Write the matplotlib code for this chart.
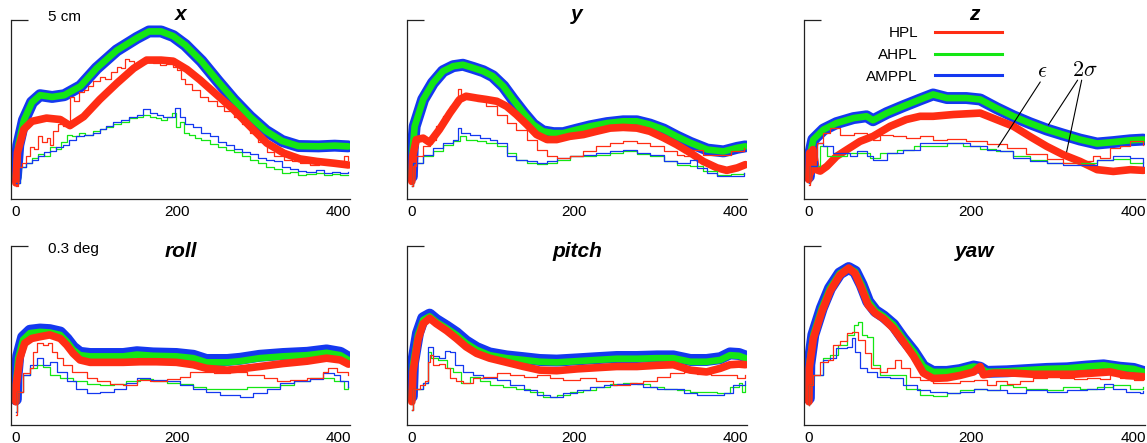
import numpy as np
import matplotlib
matplotlib.use("Agg")
from matplotlib import pyplot as plt
from matplotlib.lines import Line2D

plt.rcParams['font.family'] = ['Liberation Sans', 'DejaVu Sans']
plt.rcParams['mathtext.fontset'] = 'cm'

RED = '#ff2d14'
GREEN = '#14e614'
BLUE = '#1438f0'

panel_names = ['x', 'y', 'z', 'roll', 'pitch', 'yaw']
scale_labels = ['5 cm', '0.3 deg']
scale_tops = [5.0, 0.3]
x_ticks = [0, 200, 400]
legend_labels = ['HPL', 'AHPL', 'AMPPL']

# ---- x (cm) ----
ahpl_x = [(0, 0.6), (3, 1.5), (10, 2.2), (20, 2.7), (30, 2.9), (45, 2.85), (60, 2.9), (80, 3.15),
          (100, 3.65), (125, 4.15), (150, 4.5), (165, 4.68), (180, 4.68), (195, 4.55), (210, 4.3),
          (230, 3.85), (250, 3.3), (270, 2.77), (290, 2.3), (310, 1.9), (330, 1.62), (350, 1.48),
          (375, 1.47), (395, 1.49), (412, 1.47)]
hpl_x = [(0, 0.45), (2, 1.3), (10, 1.95), (20, 2.17), (38, 2.26), (55, 2.22), (67, 2.05), (84, 2.3),
         (104, 2.78), (125, 3.23), (146, 3.65), (162, 3.88), (180, 3.88), (195, 3.85), (212, 3.62),
         (228, 3.33), (249, 2.91), (270, 2.49), (290, 2.03), (311, 1.56), (332, 1.28), (352, 1.12),
         (373, 1.05), (394, 1.0), (412, 0.95)]
thin_hpl_x = [(0, 0.35), (3, 0.9), (8, 1.0), (12, 1.2), (17, 1.45), (22, 1.4), (27, 1.75), (32, 1.6),
              (38, 1.7), (42, 1.5), (46, 1.9), (52, 2.1), (58, 2.05), (63, 2.1), (67, 2.85), (72, 2.75),
              (78, 3.0), (84, 3.05), (90, 3.15), (96, 3.3), (104, 3.4), (110, 3.35), (118, 3.55),
              (125, 3.7), (130, 3.65), (135, 3.9), (140, 3.85), (146, 3.75), (155, 3.8), (162, 3.85),
              (170, 3.8), (179, 3.75), (186, 3.78), (195, 3.7), (200, 3.6), (205, 3.35), (210, 3.2),
              (218, 3.05), (228, 2.86), (238, 2.75), (249, 2.6), (258, 2.45), (270, 2.3), (280, 2.1),
              (290, 1.85), (300, 1.6), (311, 1.3), (320, 1.2), (332, 1.1), (342, 1.05), (352, 1.0),
              (365, 0.95), (375, 1.02), (385, 0.97), (394, 1.0), (402, 1.05), (407, 1.2), (412, 1.1)]
thin_ahpl_x = [(0, 0.45), (5, 0.9), (12, 1.0), (20, 1.15), (28, 1.25), (35, 1.2), (42, 1.45), (50, 1.4),
               (56, 1.6), (63, 1.8), (70, 1.75), (78, 1.85), (86, 1.8), (95, 1.9), (104, 1.95), (112, 2.0),
               (120, 2.1), (130, 2.15), (140, 2.25), (150, 2.3), (158, 2.35), (166, 2.3), (174, 2.25),
               (180, 2.2), (187, 2.3), (193, 2.4), (198, 2.0), (203, 2.15), (208, 1.85), (215, 1.8),
               (222, 1.7), (230, 1.65), (240, 1.55), (250, 1.45), (260, 1.38), (270, 1.3), (280, 1.2),
               (290, 1.1), (300, 1.0), (310, 0.9), (320, 0.85), (330, 0.72), (340, 0.75), (350, 0.68),
               (360, 0.7), (372, 0.74), (382, 0.68), (392, 0.7), (402, 0.66), (412, 0.68)]
thin_amppl_x = [(0, 0.45), (5, 0.9), (12, 1.0), (20, 1.1), (28, 1.2), (35, 1.3), (42, 1.35), (50, 1.45),
                (58, 1.5), (66, 1.65), (75, 1.75), (84, 1.8), (95, 1.85), (104, 1.95), (112, 2.05),
                (120, 2.15), (130, 2.2), (140, 2.3), (150, 2.35), (158, 2.5), (166, 2.4), (175, 2.35),
                (182, 2.3), (190, 2.3), (197, 2.55), (203, 2.3), (210, 2.1), (220, 2.0), (230, 1.85),
                (240, 1.75), (250, 1.6), (260, 1.5), (270, 1.4), (280, 1.3), (290, 1.25), (300, 1.15),
                (310, 1.1), (320, 1.05), (330, 0.9), (340, 0.85), (350, 0.78), (360, 0.75), (372, 0.82),
                (382, 0.72), (392, 0.75), (402, 0.72), (412, 0.75)]

# ---- y (cm) ----
ahpl_y = [(0, 0.63), (1, 1.38), (3.5, 2.03), (14, 2.78), (26, 3.24), (38.5, 3.57), (51, 3.71), (63, 3.75),
          (76, 3.66), (88, 3.57), (100, 3.43), (113, 3.15), (125, 2.78), (138, 2.40), (150, 2.08),
          (162, 1.89), (175, 1.84), (187, 1.84), (204, 1.94), (220, 2.03), (241, 2.12), (261, 2.17),
          (278, 2.17), (294, 2.08), (311, 1.94), (327, 1.75), (344, 1.57), (365, 1.38), (385, 1.33),
          (402, 1.43), (412, 1.47)]
hpl_y = [(0, 0.49), (1, 1.19), (5.5, 1.66), (14, 1.7), (22, 1.58), (34, 1.94), (47, 2.4), (59, 2.78),
         (67, 2.87), (80, 2.82), (92, 2.78), (105, 2.73), (117, 2.59), (129, 2.36), (142, 2.08),
         (154, 1.80), (167, 1.66), (179, 1.66), (195, 1.75), (212, 1.80), (228, 1.89), (245, 1.98),
         (261, 2.0), (278, 1.98), (294, 1.89), (311, 1.71), (327, 1.52), (344, 1.29), (360, 1.05),
         (377, 0.87), (389, 0.80), (402, 0.87), (412, 0.96)]
thin_hpl_y = [(0, 0.35), (1, 0.91), (5.5, 1.19), (14, 1.47), (22, 1.66), (30, 2.03), (38, 2.31),
              (47, 2.59), (53, 2.78), (57, 3.06), (61, 2.87), (67, 2.78), (80, 2.73), (92, 2.59),
              (105, 2.36), (117, 2.12), (129, 1.94), (142, 1.66), (154, 1.38), (167, 1.19), (179, 1.15),
              (195, 1.19), (212, 1.33), (228, 1.47), (245, 1.57), (261, 1.61), (278, 1.57), (294, 1.47),
              (311, 1.33), (327, 1.24), (336, 1.19), (344, 1.38), (360, 1.24), (377, 1.24), (394, 1.33),
              (410, 1.43)]
thin_ahpl_y = [(0, 0.35), (1.5, 1.01), (14, 1.19), (26, 1.33), (38, 1.52), (51, 1.61), (59, 1.75),
               (67, 1.66), (80, 1.61), (92, 1.57), (105, 1.47), (117, 1.29), (129, 1.1), (142, 1.01),
               (154, 0.99), (167, 1.01), (179, 1.1), (195, 1.19), (212, 1.21), (228, 1.24), (245, 1.29),
               (261, 1.33), (278, 1.27), (294, 1.19), (311, 1.05), (327, 0.96), (344, 0.91), (360, 0.77),
               (377, 0.68), (394, 0.71), (410, 0.73)]
thin_amppl_y = [(0, 0.35), (1.5, 1.01), (14, 1.24), (26, 1.43), (38, 1.57), (51, 1.66), (57, 1.98),
                (61, 1.84), (72, 1.80), (84, 1.70), (96, 1.66), (105, 1.57), (117, 1.19), (129, 1.10),
                (142, 1.05), (154, 1.01), (167, 1.05), (179, 1.15), (195, 1.19), (212, 1.24), (228, 1.29),
                (245, 1.33), (261, 1.36), (278, 1.29), (294, 1.24), (311, 1.05), (327, 1.01), (344, 1.10),
                (352, 0.87), (365, 0.73), (377, 0.63), (394, 0.65), (410, 0.73)]

# ---- z (cm) ----
ahpl_z = [(0, 0.63), (1, 1.19), (5.5, 1.66), (18, 1.94), (34, 2.12), (55, 2.26), (71, 2.31), (79, 2.2),
          (96, 2.40), (116, 2.59), (137, 2.78), (153, 2.92), (170, 2.82), (194, 2.82), (211, 2.78),
          (231, 2.54), (252, 2.31), (272, 2.12), (293, 1.94), (313, 1.80), (334, 1.66), (355, 1.55),
          (375, 1.59), (396, 1.64), (412, 1.66)]
hpl_z = [(0, 0.54), (1, 1.29), (2, 0.73), (5, 1.38), (9, 0.82), (14, 0.78), (22, 0.91), (34, 1.19),
         (47, 1.38), (63, 1.61), (79, 1.75), (100, 2.03), (120, 2.22), (137, 2.31), (153, 2.31),
         (178, 2.36), (211, 2.40), (231, 2.22), (252, 2.03), (272, 1.75), (293, 1.47), (313, 1.24),
         (334, 1.05), (355, 0.82), (375, 0.77), (396, 0.82), (412, 0.80)]
thin_hpl_z = [(0, 0.4), (1.4, 1.1), (9.6, 1.57), (18, 1.84), (26, 1.98), (38, 1.80), (55, 1.84),
              (71, 1.80), (79, 1.66), (88, 1.8), (104, 1.75), (120, 1.71), (137, 1.75), (153, 1.66),
              (170, 1.68), (194, 1.61), (219, 1.55), (244, 1.43), (268, 1.27), (293, 1.12), (313, 1.01),
              (334, 1.05), (350, 1.19), (358, 1.15), (371, 1.43), (383, 1.47), (396, 1.61), (412, 1.52)]
thin_ahpl_z = [(0, 0.45), (1.4, 0.91), (14, 1.47), (22, 1.19), (34, 1.19), (47, 1.29), (63, 1.29),
               (75, 1.15), (88, 1.29), (108, 1.38), (129, 1.47), (149, 1.47), (170, 1.57), (190, 1.47),
               (211, 1.40), (231, 1.33), (252, 1.19), (272, 1.10), (293, 1.01), (313, 1.01), (334, 1.01),
               (355, 1.10), (375, 1.12), (396, 1.01), (412, 1.03)]
thin_amppl_z = [(0, 0.45), (1.4, 0.91), (9.6, 1.57), (18, 1.47), (30, 1.29), (43, 1.29), (51, 1.19),
                (59, 1.33), (71, 1.19), (79, 1.10), (96, 1.29), (116, 1.38), (137, 1.57), (157, 1.57),
                (178, 1.57), (198, 1.47), (219, 1.38), (235, 1.33), (252, 1.15), (272, 1.05), (293, 1.01),
                (313, 0.96), (334, 0.96), (355, 1.10), (375, 1.19), (396, 1.15), (412, 0.91)]

# ---- roll (deg) ----
ahpl_roll = [(0, 0.039), (0.5, 0.073), (3, 0.112), (9, 0.143), (17.5, 0.154), (30, 0.156), (42, 0.155),
             (55, 0.151), (63, 0.140), (71, 0.126), (79.5, 0.117), (92, 0.115), (113, 0.115), (133, 0.115),
             (150, 0.118), (170, 0.116), (199, 0.115), (220, 0.112), (236, 0.105), (262, 0.105),
             (278, 0.107), (302, 0.112), (331, 0.115), (361, 0.117), (385, 0.121), (402, 0.117),
             (412, 0.109)]
amppl_roll = [(0, 0.043), (0.5, 0.077), (3, 0.116), (9, 0.147), (17.5, 0.158), (30, 0.160), (42, 0.159),
              (55, 0.155), (63, 0.144), (71, 0.130), (79.5, 0.121), (92, 0.119), (113, 0.119),
              (133, 0.119), (150, 0.122), (170, 0.120), (199, 0.119), (220, 0.116), (236, 0.109),
              (262, 0.109), (278, 0.111), (302, 0.116), (331, 0.119), (361, 0.121), (385, 0.125),
              (402, 0.121), (412, 0.113)]
hpl_roll = [(0, 0.039), (0.5, 0.067), (5, 0.112), (11, 0.137), (19.6, 0.145), (30, 0.148), (42, 0.151),
            (55, 0.145), (63, 0.134), (71, 0.120), (79.5, 0.109), (92, 0.105), (113, 0.105), (133, 0.105),
            (154, 0.106), (174, 0.106), (199, 0.105), (220, 0.101), (236, 0.095), (262, 0.092),
            (278, 0.094), (302, 0.098), (331, 0.103), (361, 0.107), (385, 0.112), (402, 0.109),
            (412, 0.102)]
thin_hpl_roll = [(0, 0.017), (1, 0.056), (9, 0.087), (17.5, 0.095), (21.7, 0.123), (26, 0.137),
                 (34, 0.134), (40, 0.137), (45, 0.123), (51, 0.112), (59, 0.101), (69, 0.089),
                 (79.5, 0.089), (88, 0.078), (100, 0.073), (117, 0.068), (133, 0.067), (150, 0.075),
                 (166, 0.073), (187, 0.077), (203, 0.081), (216, 0.089), (228, 0.089), (245, 0.087),
                 (265, 0.089), (286, 0.084), (307, 0.078), (323, 0.074), (340, 0.075), (361, 0.078),
                 (381, 0.089), (387, 0.095), (398, 0.089), (412, 0.084)]
thin_ahpl_roll = [(0, 0.022), (1, 0.056), (9, 0.084), (17.5, 0.095), (26, 0.101), (34, 0.098),
                  (42, 0.084), (55, 0.078), (71, 0.073), (88, 0.068), (104, 0.067), (121, 0.068),
                  (137, 0.073), (154, 0.077), (170, 0.074), (187, 0.070), (203, 0.068), (220, 0.064),
                  (236, 0.060), (253, 0.060), (269, 0.061), (286, 0.063), (307, 0.063), (327, 0.067),
                  (344, 0.073), (365, 0.078), (381, 0.078), (394, 0.073), (406, 0.061), (412, 0.064)]
thin_amppl_roll = [(0, 0.022), (1, 0.056), (9, 0.084), (17.5, 0.101), (26, 0.112), (34, 0.101),
                   (42, 0.105), (51, 0.089), (63, 0.073), (75, 0.061), (88, 0.053), (104, 0.056),
                   (121, 0.061), (137, 0.070), (150, 0.078), (166, 0.075), (187, 0.073), (203, 0.067),
                   (220, 0.061), (236, 0.056), (253, 0.050), (278, 0.047), (294, 0.053), (311, 0.061),
                   (327, 0.070), (344, 0.073), (365, 0.077), (381, 0.087), (394, 0.083), (402, 0.073),
                   (412, 0.064)]

# ---- pitch (deg) ----
ahpl_pitch = [(0, 0.045), (1.4, 0.101), (7.6, 0.151), (14, 0.176), (22, 0.182), (30, 0.173), (43, 0.162),
              (55, 0.151), (67, 0.137), (80, 0.126), (96, 0.117), (117, 0.112), (138, 0.109), (158, 0.106),
              (179, 0.105), (204, 0.107), (228, 0.109), (253, 0.111), (278, 0.111), (303, 0.112),
              (323, 0.112), (344, 0.106), (364, 0.106), (381, 0.109), (393, 0.117), (404, 0.116),
              (412, 0.112)]
amppl_pitch = [(0, 0.048), (1.4, 0.104), (7.6, 0.154), (14, 0.179), (22, 0.185), (30, 0.176), (43, 0.165),
               (55, 0.154), (67, 0.140), (80, 0.129), (96, 0.120), (117, 0.115), (138, 0.112),
               (158, 0.109), (179, 0.108), (204, 0.110), (228, 0.112), (253, 0.114), (278, 0.114),
               (303, 0.115), (323, 0.115), (344, 0.109), (364, 0.109), (381, 0.112), (393, 0.120),
               (404, 0.119), (412, 0.115)]
hpl_pitch = [(0, 0.039), (1.4, 0.089), (7.6, 0.143), (14, 0.170), (22, 0.179), (30, 0.170), (43, 0.158),
             (55, 0.145), (67, 0.131), (80, 0.120), (96, 0.112), (117, 0.105), (138, 0.098), (158, 0.092),
             (179, 0.091), (204, 0.094), (228, 0.096), (253, 0.098), (278, 0.098), (303, 0.100),
             (323, 0.101), (344, 0.092), (364, 0.089), (381, 0.095), (393, 0.101), (404, 0.102),
             (412, 0.101)]
thin_hpl_pitch = [(0, 0.025), (1.4, 0.061), (9.7, 0.067), (16, 0.073), (20, 0.106), (22, 0.117),
                  (26, 0.101), (34, 0.103), (41, 0.095), (47, 0.078), (55, 0.073), (63, 0.070),
                  (76, 0.078), (88, 0.081), (105, 0.087), (121, 0.084), (138, 0.081), (154, 0.084),
                  (171, 0.078), (187, 0.075), (208, 0.078), (228, 0.073), (249, 0.067), (270, 0.070),
                  (286, 0.073), (303, 0.081), (319, 0.087), (336, 0.089), (352, 0.085), (369, 0.083),
                  (385, 0.084), (402, 0.078), (412, 0.084)]
thin_ahpl_pitch = [(0, 0.025), (1.4, 0.061), (14, 0.070), (20, 0.123), (24, 0.112), (32, 0.109),
                   (43, 0.095), (51, 0.089), (61, 0.070), (72, 0.081), (84, 0.073), (96, 0.067),
                   (113, 0.064), (129, 0.061), (146, 0.056), (162, 0.047), (179, 0.050), (195, 0.056),
                   (212, 0.059), (228, 0.064), (245, 0.068), (261, 0.070), (278, 0.068), (294, 0.064),
                   (311, 0.061), (327, 0.059), (344, 0.056), (360, 0.056), (377, 0.053), (393, 0.064),
                   (404, 0.070), (408, 0.056), (412, 0.067)]
thin_amppl_pitch = [(0, 0.025), (1.4, 0.061), (14, 0.070), (20, 0.131), (26, 0.115), (34, 0.112),
                    (41, 0.124), (47, 0.123), (53, 0.101), (63, 0.089), (76, 0.084), (88, 0.078),
                    (105, 0.075), (121, 0.067), (138, 0.059), (154, 0.050), (171, 0.047), (187, 0.053),
                    (204, 0.059), (220, 0.063), (237, 0.067), (253, 0.068), (270, 0.068), (286, 0.064),
                    (303, 0.060), (319, 0.061), (336, 0.053), (352, 0.050), (369, 0.050), (385, 0.053),
                    (397, 0.067), (412, 0.073)]

# ---- yaw (deg) ----
ahpl_yaw = [(0, 0.045), (0.5, 0.101), (5.5, 0.151), (16, 0.196), (26, 0.229), (38, 0.254), (49, 0.263),
            (57, 0.257), (65, 0.235), (73, 0.207), (82, 0.191), (92, 0.182), (104, 0.168), (116, 0.145),
            (129, 0.123), (141, 0.098), (153, 0.089), (170, 0.089), (186, 0.092), (203, 0.098),
            (211, 0.096), (219, 0.089), (244, 0.090), (268, 0.092), (293, 0.094), (318, 0.095),
            (342, 0.098), (363, 0.100), (383, 0.096), (400, 0.094), (412, 0.089)]
hpl_yaw = [(0, 0.039), (0.5, 0.095), (5.5, 0.145), (16, 0.190), (26, 0.224), (38, 0.251), (49, 0.263),
           (57, 0.254), (65, 0.229), (73, 0.201), (82, 0.187), (92, 0.178), (104, 0.162), (116, 0.140),
           (129, 0.115), (141, 0.087), (153, 0.078), (170, 0.079), (186, 0.083), (203, 0.089),
           (211, 0.098), (215, 0.084), (227, 0.087), (252, 0.087), (276, 0.085), (301, 0.085),
           (326, 0.085), (350, 0.087), (371, 0.089), (391, 0.083), (412, 0.081)]
thin_hpl_yaw = [(0, 0.034), (0.5, 0.067), (5.5, 0.084), (14, 0.106), (24, 0.109), (30, 0.134), (38, 0.140),
                (47, 0.154), (53, 0.156), (61, 0.143), (69, 0.120), (77, 0.095), (88, 0.089), (96, 0.095),
                (106, 0.109), (114, 0.095), (125, 0.081), (137, 0.075), (153, 0.070), (170, 0.070),
                (186, 0.073), (203, 0.075), (219, 0.067), (231, 0.073), (244, 0.068), (260, 0.074),
                (276, 0.078), (293, 0.081), (309, 0.078), (326, 0.077), (342, 0.079), (359, 0.077),
                (371, 0.084), (383, 0.078), (400, 0.075), (412, 0.077)]
thin_ahpl_yaw = [(0, 0.034), (0.5, 0.067), (5.5, 0.084), (18, 0.112), (26, 0.117), (36, 0.134),
                 (47, 0.151), (55, 0.168), (61, 0.173), (65, 0.151), (71, 0.148), (79, 0.101),
                 (88, 0.084), (104, 0.084), (120, 0.061), (137, 0.050), (153, 0.049), (170, 0.053),
                 (186, 0.059), (203, 0.061), (219, 0.059), (235, 0.067), (252, 0.064), (268, 0.061),
                 (293, 0.059), (313, 0.063), (334, 0.061), (355, 0.064), (375, 0.067), (396, 0.061),
                 (412, 0.064)]
thin_amppl_yaw = [(0, 0.034), (0.5, 0.067), (5.5, 0.084), (18, 0.109), (26, 0.113), (34, 0.129),
                  (47, 0.131), (53, 0.145), (57, 0.123), (63, 0.095), (71, 0.089), (84, 0.081),
                  (100, 0.078), (116, 0.067), (133, 0.059), (149, 0.056), (170, 0.053), (186, 0.056),
                  (203, 0.060), (219, 0.059), (244, 0.053), (268, 0.059), (293, 0.056), (318, 0.059),
                  (342, 0.061), (363, 0.068), (375, 0.060), (391, 0.056), (408, 0.053), (412, 0.057)]

# the AMPPL bound overlaps AHPL in the translational panels
panels = [
    (hpl_x, ahpl_x, ahpl_x, thin_hpl_x, thin_ahpl_x, thin_amppl_x),
    (hpl_y, ahpl_y, ahpl_y, thin_hpl_y, thin_ahpl_y, thin_amppl_y),
    (hpl_z, ahpl_z, ahpl_z, thin_hpl_z, thin_ahpl_z, thin_amppl_z),
    (hpl_roll, ahpl_roll, amppl_roll, thin_hpl_roll, thin_ahpl_roll, thin_amppl_roll),
    (hpl_pitch, ahpl_pitch, amppl_pitch, thin_hpl_pitch, thin_ahpl_pitch, thin_amppl_pitch),
    (hpl_yaw, ahpl_yaw, ahpl_yaw, thin_hpl_yaw, thin_ahpl_yaw, thin_amppl_yaw),
]

W, H = 1147, 443
fig = plt.figure(figsize=(W / 100, H / 100), dpi=100)

lefts = [11, 407, 804]
widths = [339, 340, 341]
row_px = [(20, 199), (246, 425)]
title_y = [1.0, 0.94]

axes = []
for i, name in enumerate(panel_names):
    r, c = divmod(i, 3)
    top, bot = row_px[r]
    ax = fig.add_axes([lefts[c] / W, 1 - bot / H, widths[c] / W, (bot - top) / H])
    axes.append(ax)
    hpl, ahpl, amppl, t_hpl, t_ahpl, t_amppl = [np.array(s) for s in panels[i]]

    kw = dict(solid_capstyle='round', solid_joinstyle='round')
    ax.plot(amppl[:, 0], amppl[:, 1], color=BLUE, lw=8.6, **kw)
    ax.plot(ahpl[:, 0], ahpl[:, 1], color=GREEN, lw=4.8, **kw)
    ax.plot(hpl[:, 0], hpl[:, 1], color=RED, lw=5.5, **kw)
    ax.plot(t_ahpl[:, 0], t_ahpl[:, 1], color=GREEN, lw=0.9, drawstyle='steps-post')
    ax.plot(t_amppl[:, 0], t_amppl[:, 1], color=BLUE, lw=0.9, drawstyle='steps-post')
    ax.plot(t_hpl[:, 0], t_hpl[:, 1], color=RED, lw=0.9, drawstyle='steps-post')

    ymax = scale_tops[r]
    ax.set_xlim(-6, 414)
    ax.set_ylim(0, ymax)
    for s in ['top', 'right']:
        ax.spines[s].set_visible(False)
    for s in ['left', 'bottom']:
        ax.spines[s].set_linewidth(0.9)
        ax.spines[s].set_color('#222222')
    ax.set_yticks([ymax])
    ax.tick_params(axis='y', direction='in', length=12.5, width=0.9, color='#222222', labelleft=False)
    ax.set_xticks(x_ticks)
    ax.tick_params(axis='x', length=0, pad=4, labelsize=11)

    ax.text(0.5, title_y[r], name, transform=ax.transAxes, ha='center', va='baseline',
            fontsize=15, fontweight='bold', fontstyle='italic')
    if c == 0:
        ax.text(0.108, 1.017 if r == 0 else 0.983, scale_labels[r], transform=ax.transAxes,
                ha='left', va='center', fontsize=11)

# legend and annotations on the z panel
ax = axes[2]
handles = [Line2D([], [], color=col, lw=2.2) for col in (RED, GREEN, BLUE)]
ax.legend(handles, legend_labels, loc='upper right', bbox_to_anchor=(0.581, 0.965),
          markerfirst=False, frameon=False, fontsize=11, handlelength=4.4,
          handletextpad=1.1, labelspacing=0.5, borderpad=0, borderaxespad=0)

line_kw = dict(arrowprops=dict(arrowstyle='-', lw=0.8, color='black', shrinkA=0, shrinkB=0))
ax.annotate('', xy=(233, 1.45), xytext=(285, 3.27), **line_kw)
ax.annotate('', xy=(295, 2.07), xytext=(331, 3.32), **line_kw)
ax.annotate('', xy=(317.5, 1.32), xytext=(336, 3.32), **line_kw)
ax.text(288, 3.55, r'$\epsilon$', fontsize=16, ha='center', va='center')
ax.text(340, 3.58, r'$2\sigma$', fontsize=16, ha='center', va='center')

fig.savefig('out.png', dpi=100)
